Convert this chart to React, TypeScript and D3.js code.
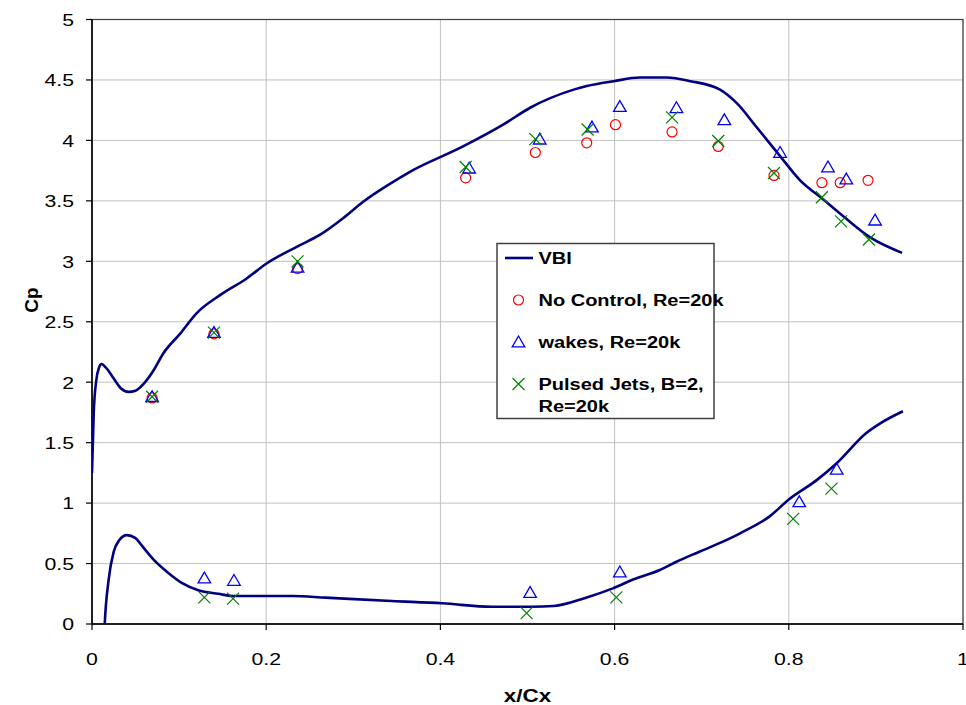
import React from "react";
import * as d3 from "d3";

const vbiUpperX = [0, 0.002, 0.005, 0.008, 0.011, 0.016, 0.025, 0.033, 0.042, 0.05, 0.061, 0.07, 0.082, 0.101, 0.12, 0.147, 0.178, 0.2, 0.235, 0.262, 0.289, 0.311, 0.342, 0.365, 0.426, 0.472, 0.503, 0.553, 0.568, 0.599, 0.629, 0.66, 0.687, 0.721, 0.74, 0.763, 0.79, 0.813, 0.84, 0.863, 0.893, 0.93];
const vbiUpperY = [1.25, 1.75, 2.02, 2.12, 2.15, 2.12, 2.03, 1.95, 1.92, 1.93, 2.0, 2.09, 2.24, 2.4, 2.57, 2.72, 2.86, 2.98, 3.12, 3.22, 3.36, 3.49, 3.64, 3.74, 3.95, 4.13, 4.27, 4.42, 4.45, 4.49, 4.52, 4.52, 4.49, 4.42, 4.31, 4.11, 3.87, 3.67, 3.51, 3.37, 3.2, 3.07];

const vbiLowerX = [0.013, 0.0145, 0.019, 0.025, 0.031, 0.04, 0.05, 0.057, 0.071, 0.088, 0.103, 0.122, 0.145, 0.161, 0.23, 0.268, 0.344, 0.402, 0.459, 0.505, 0.53, 0.568, 0.598, 0.622, 0.652, 0.671, 0.698, 0.736, 0.744, 0.778, 0.8, 0.832, 0.855, 0.889, 0.905, 0.931];
const vbiLowerY = [-0.3, -0.02, 0.36, 0.6, 0.69, 0.735, 0.71, 0.65, 0.53, 0.42, 0.34, 0.28, 0.25, 0.232, 0.232, 0.218, 0.19, 0.171, 0.143, 0.143, 0.149, 0.22, 0.295, 0.37, 0.447, 0.515, 0.6, 0.72, 0.75, 0.89, 1.03, 1.19, 1.33, 1.58, 1.66, 1.76];

const noControlX = [0.069, 0.14, 0.236, 0.429, 0.509, 0.568, 0.601, 0.666, 0.719, 0.783, 0.838, 0.859, 0.891];
const noControlY = [1.87, 2.4, 2.94, 3.69, 3.9, 3.98, 4.13, 4.07, 3.95, 3.71, 3.65, 3.65, 3.67];

const wakesX = [0.069, 0.14, 0.236, 0.433, 0.514, 0.574, 0.606, 0.671, 0.726, 0.79, 0.845, 0.866, 0.899, 0.129, 0.163, 0.503, 0.606, 0.812, 0.855];
const wakesY = [1.88, 2.41, 2.95, 3.77, 4.01, 4.11, 4.28, 4.27, 4.17, 3.9, 3.78, 3.68, 3.34, 0.38, 0.36, 0.26, 0.43, 1.01, 1.28];

const pulsedX = [0.069, 0.14, 0.236, 0.429, 0.509, 0.569, 0.666, 0.719, 0.783, 0.838, 0.86, 0.892, 0.129, 0.162, 0.499, 0.602, 0.805, 0.849];
const pulsedY = [1.88, 2.41, 3.0, 3.78, 4.01, 4.09, 4.19, 3.995, 3.73, 3.53, 3.33, 3.18, 0.22, 0.21, 0.09, 0.22, 0.87, 1.12];

const xTicks = [0, 0.2, 0.4, 0.6, 0.8, 1];
const yTicks = [0, 0.5, 1, 1.5, 2, 2.5, 3, 3.5, 4, 4.5, 5];
const xTickLabels = ["0", "0.2", "0.4", "0.6", "0.8", "1"];
const yTickLabels = ["0", "0.5", "1", "1.5", "2", "2.5", "3", "3.5", "4", "4.5", "5"];

const legendLabels = ["VBI", "No Control, Re=20k", "wakes, Re=20k", "Pulsed Jets, B=2,", "Re=20k"];

const FONT = "'Liberation Sans', Arial, sans-serif";
const SX = 1.25;

function SText({ x, y, anchor = "start", size = 17, weight = "normal", children }: any) {
  return (
    <text
      transform={`translate(${x},${y}) scale(${SX},1)`}
      textAnchor={anchor}
      fontFamily={FONT}
      fontSize={size}
      fontWeight={weight}
      fill="#000"
    >
      {children}
    </text>
  );
}

export default function App() {
  const W = 966, H = 705;
  const L = 92, R = 963, T = 19.5, B = 624;
  const x = d3.scaleLinear().domain([0, 1]).range([L, R]);
  const y = d3.scaleLinear().domain([0, 5]).range([B, T]);

  const line = d3
    .line<[number, number]>()
    .x((d) => x(d[0]))
    .y((d) => y(d[1]))
    .curve(d3.curveMonotoneX);

  const upper: [number, number][] = vbiUpperX.map((v, i) => [v, vbiUpperY[i]]);
  const lower: [number, number][] = vbiLowerX.map((v, i) => [v, vbiLowerY[i]]);

  const navy = "#000080";
  const tri = (cx: number, cy: number, s = 6) =>
    `M${cx},${cy - s} L${cx + s * 1.05},${cy + s * 0.8} L${cx - s * 1.05},${cy + s * 0.8} Z`;
  const cross = (cx: number, cy: number, s = 6) =>
    `M${cx - s},${cy - s} L${cx + s},${cy + s} M${cx - s},${cy + s} L${cx + s},${cy - s}`;

  // legend
  const lgX = 497, lgY = 243.5, lgW = 217, lgH = 175;

  return (
    <svg width={W} height={H} style={{ position: "absolute", left: 0, top: 0, background: "#fff" }}>
      <defs>
        <clipPath id="plotclip">
          <rect x={L} y={T} width={R - L} height={B - T} />
        </clipPath>
      </defs>
      <rect x={0} y={0} width={W} height={H} fill="#fff" />
      {/* grid */}
      {yTicks.map((t) => (
        <line key={"gy" + t} x1={L} x2={R} y1={y(t)} y2={y(t)} stroke="#c0c0c0" strokeWidth={1} />
      ))}
      {xTicks.map((t) => (
        <line key={"gx" + t} x1={x(t)} x2={x(t)} y1={T} y2={B} stroke="#c0c0c0" strokeWidth={1} />
      ))}
      {/* border */}
      <rect x={L} y={T} width={R - L} height={B - T} fill="none" stroke="#404040" strokeWidth={1.2} />
      {/* axes */}
      <line x1={L} x2={L} y1={T} y2={B} stroke="#000" strokeWidth={1.5} />
      <line x1={L} x2={R} y1={B} y2={B} stroke="#000" strokeWidth={1.5} />
      {yTicks.map((t) => (
        <line key={"ty" + t} x1={L - 6} x2={L} y1={y(t)} y2={y(t)} stroke="#000" strokeWidth={1.2} />
      ))}
      {xTicks.map((t) => (
        <line key={"tx" + t} x1={x(t)} x2={x(t)} y1={B} y2={B + 6} stroke="#000" strokeWidth={1.2} />
      ))}
      {yTicks.map((t, i) => (
        <SText key={"ly" + t} x={74} y={y(t) + 6.3} anchor="end">
          {yTickLabels[i]}
        </SText>
      ))}
      {xTicks.map((t, i) => (
        <SText key={"lx" + t} x={x(t)} y={664.5} anchor="middle">
          {xTickLabels[i]}
        </SText>
      ))}
      <SText x={(L + R) / 2} y={701.5} anchor="middle" size={18} weight="bold">
        x/Cx
      </SText>
      <text
        transform={`translate(38,300) rotate(-90)`}
        textAnchor="middle"
        fontFamily={FONT}
        fontSize={19}
        fontWeight="bold"
        fill="#000"
      >
        Cp
      </text>

      {/* data */}
      <g clipPath="url(#plotclip)">
        <path d={line(upper) || ""} fill="none" stroke={navy} strokeWidth={2.6} strokeLinejoin="round" />
        <path d={line(lower) || ""} fill="none" stroke={navy} strokeWidth={2.6} strokeLinejoin="round" />
      </g>
      {noControlX.map((v, i) => (
        <circle key={"nc" + i} cx={x(v)} cy={y(noControlY[i])} r={5} fill="none" stroke="#ff0000" strokeWidth={1.2} />
      ))}
      {wakesX.map((v, i) => (
        <path key={"wk" + i} d={tri(x(v), y(wakesY[i]))} fill="none" stroke="#0000ff" strokeWidth={1.3} />
      ))}
      {pulsedX.map((v, i) => (
        <path key={"pj" + i} d={cross(x(v), y(pulsedY[i]))} fill="none" stroke="#008000" strokeWidth={1.2} />
      ))}

      {/* legend */}
      <rect x={lgX} y={lgY} width={lgW} height={lgH} fill="#fff" stroke="#404040" strokeWidth={1.5} />
      <line x1={505} x2={533} y1={258} y2={258} stroke={navy} strokeWidth={2.6} />
      <circle cx={518.5} cy={300} r={5} fill="none" stroke="#ff0000" strokeWidth={1.2} />
      <path d={tri(518.5, 342)} fill="none" stroke="#0000ff" strokeWidth={1.3} />
      <path d={cross(518.5, 384)} fill="none" stroke="#008000" strokeWidth={1.2} />
      <SText x={538.5} y={264} size={16} weight="bold">{legendLabels[0]}</SText>
      <SText x={538.5} y={306} size={16} weight="bold">{legendLabels[1]}</SText>
      <SText x={538.5} y={348} size={16} weight="bold">{legendLabels[2]}</SText>
      <SText x={538.5} y={390} size={16} weight="bold">{legendLabels[3]}</SText>
      <SText x={538.5} y={412} size={16} weight="bold">{legendLabels[4]}</SText>
    </svg>
  );
}
